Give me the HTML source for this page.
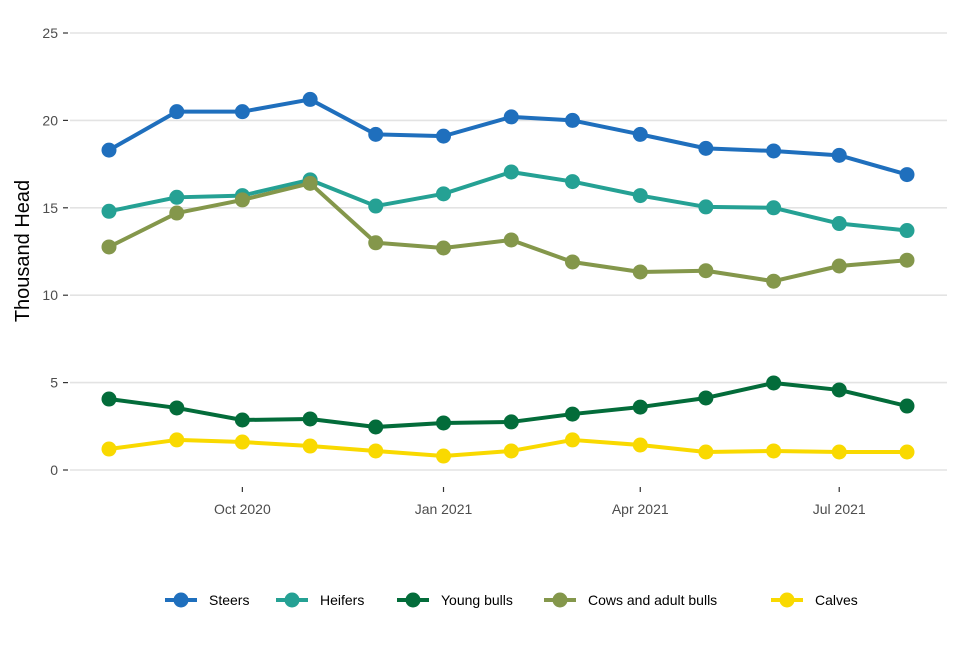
<!DOCTYPE html>
<html><head><meta charset="utf-8"><style>
body{margin:0;background:#fff;}
svg text{font-family:"Liberation Sans",Arial,sans-serif;}
</style></head><body>
<svg id="chart" width="960" height="640" viewBox="0 0 960 640" xmlns="http://www.w3.org/2000/svg">
<g id="grid"></g><g id="axes"></g><g id="series"></g><g id="legend"></g>
<text transform="translate(29,251) rotate(-90)" text-anchor="middle" font-size="20" fill="#000">Thousand Head</text>
</svg>
<script>
const months=["2020-08","2020-09","2020-10","2020-11","2020-12","2021-01","2021-02","2021-03","2021-04","2021-05","2021-06","2021-07","2021-08"];
const steers=[18.3,20.5,20.5,21.2,19.2,19.1,20.2,20.0,19.2,18.4,18.25,18.0,16.9];
const heifers=[14.8,15.6,15.7,16.6,15.1,15.8,17.05,16.5,15.7,15.05,15.0,14.1,13.7];
const youngBulls=[4.06,3.55,2.86,2.92,2.46,2.69,2.75,3.2,3.6,4.12,4.98,4.58,3.66];
const cows=[12.76,14.7,15.45,16.4,13.0,12.7,13.16,11.9,11.33,11.4,10.8,11.67,12.0];
const calves=[1.2,1.72,1.6,1.37,1.09,0.8,1.09,1.72,1.43,1.03,1.09,1.03,1.03];
const yTicks=[0,5,10,15,20,25];
const xTickDates=["2020-10","2021-01","2021-04","2021-07"];
const xTickLabels=["Oct 2020","Jan 2021","Apr 2021","Jul 2021"];
const seriesNames=["Steers","Heifers","Young bulls","Cows and adult bulls","Calves"];
const seriesColors=["#1f6fbd","#25a194","#036c3a","#84974b","#f9d900"];
const seriesData=[steers,heifers,youngBulls,cows,calves];

const NS="http://www.w3.org/2000/svg";
const t0=Date.UTC(2020,7,1),t1=Date.UTC(2021,7,1);
function toMs(s){const [y,m]=s.split("-").map(Number);return Date.UTC(y,m-1,1);}
function xs(s){return 109+(toMs(s)-t0)/(t1-t0)*798;}
function ys(v){return 470-v*(437/25);}
function mk(tag,attrs,parent){const e=document.createElementNS(NS,tag);for(const k in attrs)e.setAttribute(k,attrs[k]);parent.appendChild(e);return e;}
const grid=document.getElementById("grid"),axes=document.getElementById("axes"),ser=document.getElementById("series"),leg=document.getElementById("legend");
yTicks.forEach(v=>{
 const l=mk("line",{x1:70,x2:947,y1:ys(v),y2:ys(v),stroke:"#e3e3e3","stroke-width":1.6},grid);
 
 
 mk("line",{x1:63,x2:68,y1:ys(v),y2:ys(v),stroke:"#333","stroke-width":1.2},axes);
 const t=mk("text",{x:58,y:ys(v)+5,"text-anchor":"end","font-size":14,fill:"#4d4d4d"},axes);t.textContent=v;
 
 
});
xTickDates.forEach((d,i)=>{
 const x=xs(d);
 mk("line",{x1:x,x2:x,y1:487,y2:492,stroke:"#333","stroke-width":1.2},axes);
 const t=mk("text",{x:x,y:514,"text-anchor":"middle","font-size":14,fill:"#4d4d4d"},axes);t.textContent=xTickLabels[i];
 
 
});
seriesData.forEach((arr,si)=>{
 const g=mk("g",{},ser);
 
 
 const pts=arr.map((v,i)=>xs(months[i])+","+ys(v)).join(" ");
 mk("polyline",{points:pts,fill:"none",stroke:seriesColors[si],"stroke-width":4,"stroke-linejoin":"round"},g);
 arr.forEach((v,i)=>{
  const c=mk("circle",{cx:xs(months[i]),cy:ys(v),r:7.5,fill:seriesColors[si]},g);
  
  
 });
});
const legX=[165,276,397,544,771];
seriesNames.forEach((n,i)=>{
 const g=mk("g",{},leg);
 
 
 mk("line",{x1:legX[i],x2:legX[i]+32,y1:600,y2:600,stroke:seriesColors[i],"stroke-width":4},g);
 mk("circle",{cx:legX[i]+16,cy:600,r:7.5,fill:seriesColors[i]},g);
 const t=mk("text",{x:legX[i]+44,y:605,"font-size":14,fill:"#000"},g);t.textContent=n;
});
</script>
</body></html>
